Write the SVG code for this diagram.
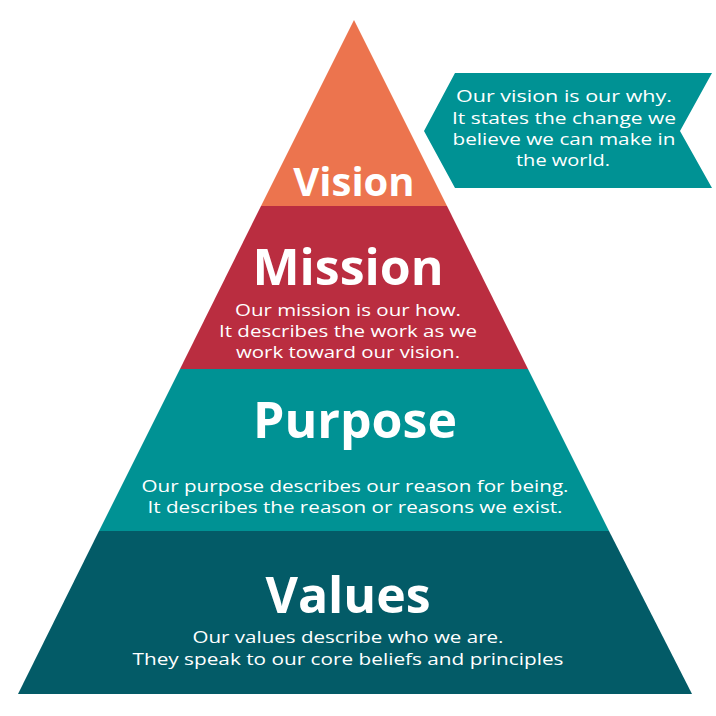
<svg xmlns="http://www.w3.org/2000/svg" width="716" height="716" viewBox="0 0 716 716">
<style>
.h{font-family:"Open Sans","Noto Sans",sans-serif;font-weight:bold;fill:#fff;text-anchor:middle}
.t{font-family:"Open Sans","Noto Sans",sans-serif;font-size:17px;fill:#fff;text-anchor:middle}
</style>
<rect width="716" height="716" fill="#fff"/>
<g id="vision"><polygon points="354,20 447,206 261,206" fill="#EC744E"/><text class="h" x="354" y="196" font-size="40">Vision</text></g>
<g id="mission"><polygon points="261,206 447,206 528,369 180,369" fill="#BA2D40"/><text class="h" x="348" y="285" font-size="50">Mission</text>
<text class="t" x="348" y="316" textLength="226" lengthAdjust="spacingAndGlyphs">Our mission is our how.</text><text class="t" x="348" y="337" textLength="258" lengthAdjust="spacingAndGlyphs">It describes the work as we</text><text class="t" x="348" y="358" textLength="224" lengthAdjust="spacingAndGlyphs">work toward our vision.</text></g>
<g id="purpose"><polygon points="180,369 528,369 609,531 99,531" fill="#009294"/><text class="h" x="355" y="438" font-size="50">Purpose</text>
<text class="t" x="355" y="492" textLength="427" lengthAdjust="spacingAndGlyphs">Our purpose describes our reason for being.</text><text class="t" x="355" y="513" textLength="415" lengthAdjust="spacingAndGlyphs">It describes the reason or reasons we exist.</text></g>
<g id="values"><polygon points="99,531 609,531 692,694 18,694" fill="#035B67"/><text class="h" x="348" y="613" font-size="50">Values</text>
<text class="t" x="348" y="643" textLength="311" lengthAdjust="spacingAndGlyphs">Our values describe who we are.</text><text class="t" x="348" y="665" textLength="431" lengthAdjust="spacingAndGlyphs">They speak to our core beliefs and principles</text></g>
<g id="callout"><polygon points="455,73 712,73 680,131 712,188 455,188 424,131" fill="#009294"/>
<text class="t" x="564" y="102" textLength="216" lengthAdjust="spacingAndGlyphs">Our vision is our why.</text><text class="t" x="564" y="124" textLength="224" lengthAdjust="spacingAndGlyphs">It states the change we</text><text class="t" x="564" y="145" textLength="223" lengthAdjust="spacingAndGlyphs">believe we can make in</text><text class="t" x="563" y="166" textLength="94" lengthAdjust="spacingAndGlyphs">the world.</text></g>
<g id="connectors"/>
</svg>
